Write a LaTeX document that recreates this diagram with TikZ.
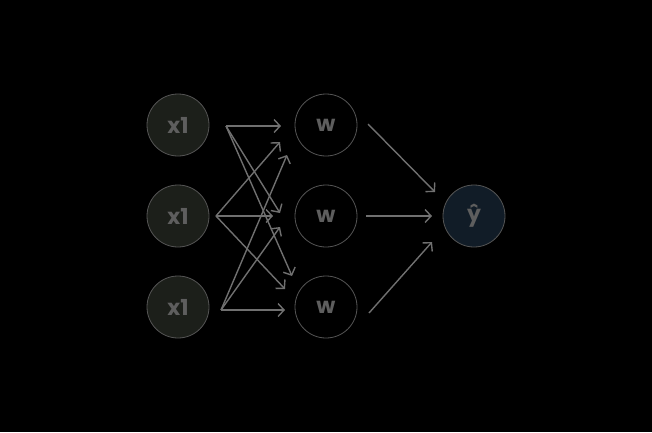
\documentclass[tikz,border=0pt]{standalone}
\usepackage{fontspec}
\setmainfont{Poppins}
\usetikzlibrary{arrows.meta}
\definecolor{inp}{HTML}{1C1F1A}
\definecolor{outp}{HTML}{111C27}
\definecolor{edge}{HTML}{555555}
\definecolor{txt}{HTML}{5E5E5E}
\definecolor{arr}{HTML}{707070}
\begin{document}
\begin{tikzpicture}[x=1pt,y=-1pt,
  neuron/.style={circle,draw=edge,line width=0.8pt,minimum size=62pt,inner sep=0pt,
    text=txt,font=\fontsize{22}{22}\selectfont\bfseries},
  innode/.style={neuron,fill=inp},
  wnode/.style={neuron,fill=black},
  onode/.style={neuron,fill=outp},
  conn/.style={draw=arr,line width=1.4pt,-{Straight Barb[length=6pt,width=13pt,line width=1.4pt]}}]
\fill[black] (0,0) rectangle (652,432);
\useasboundingbox (0,0) rectangle (652,432);
\node[innode] (x1) at (178,125) {x1};
\node[innode] (x2) at (178,216) {x1};
\node[innode] (x3) at (178,307) {x1};
\node[wnode] (w1) at (326,125) {w};
\node[wnode] (w2) at (326,216) {w};
\node[wnode] (w3) at (326,307) {w};
\node[onode] (y) at (474,216) {ŷ};
% start points
\coordinate (s1) at (226,126);
\coordinate (s2) at (216,216);
\coordinate (s3) at (221,310);
% end points
\coordinate (e11) at (281,126);
\coordinate (e12) at (280,213);
\coordinate (e13) at (292,276);
\coordinate (e21) at (280,142);
\coordinate (e22) at (273,216);
\coordinate (e23) at (285,289);
\coordinate (e31) at (287,155);
\coordinate (e32) at (280,227);
\coordinate (e33) at (285,310);
\draw[conn] (s1) -- (e11);
\draw[conn] (s1) -- (e12);
\draw[conn] (s1) -- (e13);
\draw[conn] (s2) -- (e21);
\draw[conn] (s2) -- (e22);
\draw[conn] (s2) -- (e23);
\draw[conn] (s3) -- (e31);
\draw[conn] (s3) -- (e32);
\draw[conn] (s3) -- (e33);
\coordinate (t1) at (368,124);
\coordinate (t2) at (366,216);
\coordinate (t3) at (369,313);
\coordinate (f1) at (435,192);
\coordinate (f2) at (432,216);
\coordinate (f3) at (432,242);
\draw[conn] (t1) -- (f1);
\draw[conn] (t2) -- (f2);
\draw[conn] (t3) -- (f3);
\end{tikzpicture}
\end{document}
